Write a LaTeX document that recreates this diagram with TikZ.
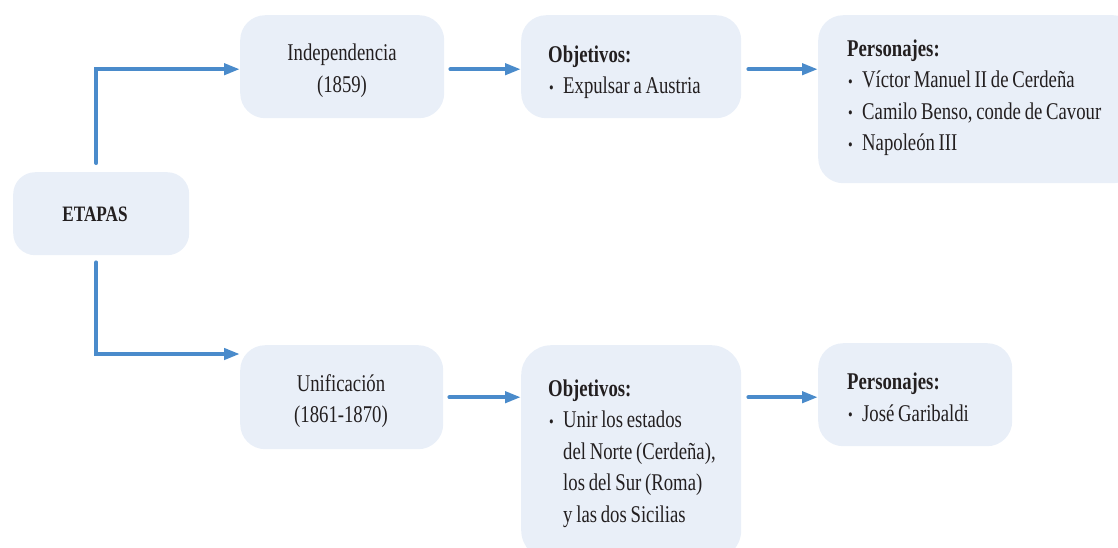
\documentclass[tikz,border=0pt]{standalone}
\usepackage{fontspec}
\setmainfont{Liberation Serif}[FakeStretch=0.78,WordSpace=0.8]
\usetikzlibrary{arrows.meta,calc}
\definecolor{boxfill}{HTML}{E9EFF8}
\definecolor{arrowblue}{HTML}{4A8BCB}
\definecolor{txt}{HTML}{231F20}
\newcommand{\bul}{\makebox[15pt][l]{\hspace{1pt}\raisebox{0.5pt}{\fontsize{17}{17}\selectfont\textbullet}}}
\newcommand{\contind}{\hspace*{15pt}}
\begin{document}
\begin{tikzpicture}[x=1pt,y=-1pt,
  box/.style={fill=boxfill, rounded corners=25pt, inner sep=0pt, anchor=north west},
  lbl/.style={text=txt, inner sep=0pt, font=\fontsize{24}{31.5}\selectfont},
  arr/.style={draw=arrowblue, line width=4pt, line cap=round, -{Triangle[length=16pt,width=11pt]}}]
\useasboundingbox (0,0) rectangle (1118,547);
\clip (0,0) rectangle (1118,547);
% boxes
\node[box, minimum width=176pt, minimum height=83pt, rounded corners=22pt] (etapas) at (13,172) {};
\node[box, minimum width=204pt, minimum height=103pt] (ind) at (240,15) {};
\node[box, minimum width=220pt, minimum height=103pt] (obj1) at (521,15) {};
\node[box, minimum width=320pt, minimum height=168pt] (per1) at (818,15) {};
\node[box, minimum width=203pt, minimum height=104pt] (uni) at (240,345) {};
\node[box, minimum width=220pt, minimum height=215pt, rounded corners=30pt] (obj2) at (521,345) {};
\node[box, minimum width=194pt, minimum height=103pt] (per2) at (818,343) {};
% texts
\node[lbl, font=\fontsize{22}{31.5}\selectfont\bfseries] (etapast) at (95,214) {ETAPAS};
\node[lbl, align=center] (indt) at (342,70.5) {Independencia\\(1859)};
\node[lbl, align=left, anchor=west] (obj1t) at (548,72)
  {\textbf{Objetivos:}\\\bul Expulsar a Austria};
\node[lbl, align=left, anchor=west] (per1t) at (847,97.5)
  {\textbf{Personajes:}\\\bul Víctor Manuel II de Cerdeña\\\bul Camilo Benso, conde de Cavour\\\bul Napoleón III};
\node[lbl, align=center] (unit) at (341,401) {Unificación\\(1861-1870)};
\node[lbl, align=left, anchor=west] (obj2t) at (548,453.5)
  {\textbf{Objetivos:}\\\bul Unir los estados\\\contind del Norte (Cerdeña),\\\contind los del Sur (Roma)\\\contind y las dos Sicilias};
\node[lbl, align=left, anchor=west] (per2t) at (847,397.5)
  {\textbf{Personajes:}\\\bul José Garibaldi};
% connectors
\coordinate (t1) at ($(etapas.north)+(-5,-9)$);
\coordinate (b1) at ($(etapas.south)+(-5,7)$);
\coordinate (ti) at ($(ind.west)+(0,2.5)$);
\coordinate (tu) at ($(uni.north west)+(0,9)$);
\draw[arr] (t1) |- (ti);
\draw[arr] (b1) |- (tu);
\coordinate (r1) at ($(ind.east)+(0,2.5)$);
\draw[arr, shorten <=6pt] (r1) -- (r1 -| obj1.west);
\draw[arr, shorten <=7pt] (r1 -| obj1.east) -- (r1 -| per1.west);
\coordinate (r2) at (uni.east);
\draw[arr, shorten <=6pt] (r2) -- (r2 -| obj2.west);
\draw[arr, shorten <=7pt] (r2 -| obj2.east) -- (r2 -| per2.west);
\end{tikzpicture}
\end{document}
